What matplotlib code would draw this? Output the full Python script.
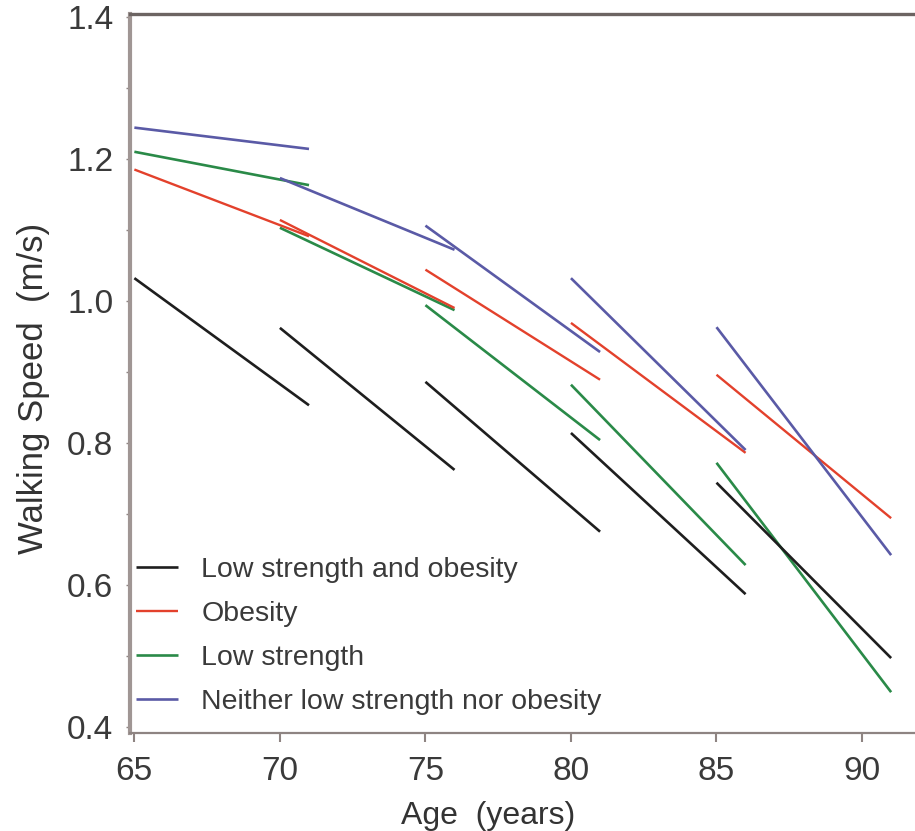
import matplotlib.pyplot as plt
from matplotlib.ticker import MultipleLocator

plt.rcParams['font.family'] = ['Liberation Sans', 'DejaVu Sans']

# each group: 6-year segments starting at these ages
start_ages = [65, 70, 75, 80, 85]
span = 6

black_start = [1.032, 0.962, 0.886, 0.814, 0.744]
black_end = [0.853, 0.762, 0.675, 0.587, 0.497]
red_start = [1.185, 1.114, 1.044, 0.969, 0.896]
red_end = [1.091, 0.990, 0.889, 0.786, 0.694]
green_start = [1.210, 1.103, 0.994, 0.882, 0.772]
green_end = [1.163, 0.987, 0.804, 0.628, 0.449]
blue_start = [1.244, 1.173, 1.106, 1.032, 0.963]
blue_end = [1.214, 1.072, 0.928, 0.790, 0.642]

x_ticks = [65, 70, 75, 80, 85, 90]
y_ticks = [0.4, 0.6, 0.8, 1.0, 1.2, 1.4]

fig = plt.figure(figsize=(9.15, 8.31), dpi=100)
ax = fig.add_axes([130 / 915, 98 / 831, 785 / 915, 719 / 831])

groups = [
    ("Low strength and obesity", black_start, black_end, '#1e1e1e', 1.9, 4),
    ("Obesity", red_start, red_end, '#e3412c', 1.7, 2),
    ("Low strength", green_start, green_end, '#2a8a48', 1.9, 1),
    ("Neither low strength nor obesity", blue_start, blue_end, '#5a5aa6', 1.9, 3),
]

handles = []
for label, ys, ye, color, lw, z in groups:
    for a, v0, v1 in zip(start_ages, ys, ye):
        line, = ax.plot([a, a + span], [v0, v1], color=color, lw=lw, zorder=z,
                        solid_capstyle='butt')
    line.set_label(label)
    handles.append(line)

ax.set_xlim(64.85, 91.82)
ax.set_ylim(0.3915, 1.404)
ax.set_xticks(x_ticks)
ax.set_yticks(y_ticks)
ax.set_yticklabels([f"{v:.1f}" for v in y_ticks])
ax.yaxis.set_minor_locator(MultipleLocator(0.1))

ax.spines['right'].set_visible(False)
ax.spines['left'].set_color('#a09694')
ax.spines['left'].set_linewidth(3)
ax.spines['bottom'].set_color('#8e8482')
ax.spines['bottom'].set_linewidth(1.6)
ax.spines['top'].set_color('#6c6462')
ax.spines['top'].set_linewidth(2.4)

ax.tick_params(axis='x', direction='out', length=6.5, width=1.5, color='#8e8482',
               labelsize=24, labelcolor='#3a3a3a', pad=10)
ax.tick_params(axis='y', which='both', direction='out', length=3, width=1, color='#8e8482',
               labelsize=24, labelcolor='#3a3a3a', pad=9)

ax.set_xlabel("Age  (years)", fontsize=23, color='#333333')
ax.xaxis.set_label_coords((488 - 130) / 785, -0.095)
ax.set_ylabel("Walking Speed  (m/s)", fontsize=25, color='#333333')
ax.yaxis.set_label_coords(-0.102, (733 - 388) / 719)

ax.legend(handles=handles, loc='upper left', bbox_to_anchor=(0.0, 0.2525),
          frameon=False, fontsize=20.5, handlelength=1.5, handletextpad=0.8,
          labelspacing=0.63, borderpad=0.2, borderaxespad=0.0,
          labelcolor='#3a3a3a')

fig.savefig("out.png", dpi=100)
